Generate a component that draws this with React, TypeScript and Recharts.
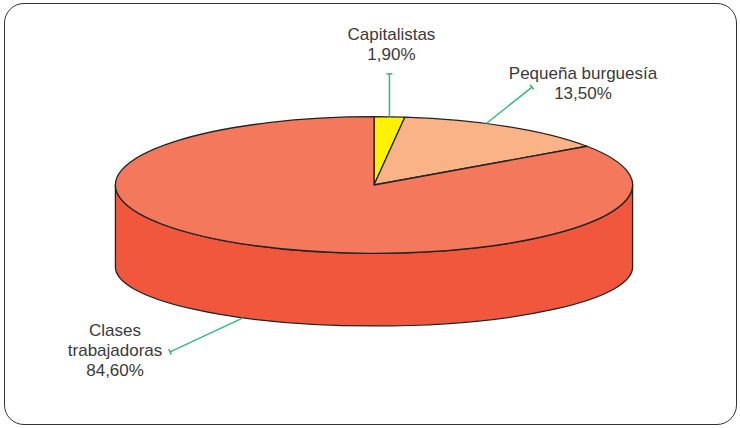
import React from 'react';
import { PieChart, Pie } from 'recharts';

// ---- data ----
const CATEGORIES = ['Capitalistas', 'Pequeña burguesía', 'Clases trabajadoras'];
const VALUES = [1.9, 13.5, 84.6];
const LABEL_LINES = [['Capitalistas'], ['Pequeña burguesía'], ['Clases', 'trabajadoras']];

// ---- styles / layout ----
const TOP_COLORS = ['#FFF200', '#F9B387', '#F4795C'];
const SIDE_COLORS = ['#E6D800', '#EE9A6E', '#F0573C'];
const LEADER = '#35B97A';
const EDGE = '#232323';
const TEXT = '#3a3a3a';
const FONT = "'Liberation Sans', Arial, sans-serif";

const W = 740;
const H = 428;
const CX = 374;
const CY = 185;
const RX = 258.6;
const RATIO_TOP = 68.3 / 258.6;
const DEPTH = 82;
const RATIO_BOT = 59 / 258.6;

const LABEL_LAYOUT = [
  { shift: 0, ex: 0, ey: -43, tx: 2, ty: -34 },
  { shift: 5.4, ex: 45.7, ey: -36.3, tx: 51, ty: -7.7 },
  { shift: -2.7, ex: -73, ey: 34, tx: -55, ty: -16 },
];

const data = CATEGORIES.map((name, i) => ({ name, value: VALUES[i] }));

const rad = (d: number) => (d * Math.PI) / 180;
const topPt = (cx: number, cy: number, r: number, a: number) => [
  cx + r * Math.cos(rad(a)),
  cy - r * RATIO_TOP * Math.sin(rad(a)),
];
const botPt = (cx: number, cy: number, r: number, a: number) => [
  cx + r * Math.cos(rad(a)),
  cy + DEPTH - r * RATIO_BOT * Math.sin(rad(a)),
];

const renderWall = (p: any) => {
  const { cx, cy, outerRadius: r, index } = p;
  const hi = Math.max(p.startAngle, p.endAngle);
  const lo = Math.min(p.startAngle, p.endAngle);
  const a1 = Math.min(hi, 0);
  const a2 = Math.max(lo, -180);
  if (a1 <= a2) return <g key={`w${index}`} />;
  const [x1, y1] = topPt(cx, cy, r, a1);
  const [x2, y2] = topPt(cx, cy, r, a2);
  const [bx1, by1] = botPt(cx, cy, r, a1);
  const [bx2, by2] = botPt(cx, cy, r, a2);
  const large = a1 - a2 > 180 ? 1 : 0;
  const d = `M${x1},${y1} A${r},${r * RATIO_TOP} 0 ${large} 1 ${x2},${y2} L${bx2},${by2} A${r},${r * RATIO_BOT} 0 ${large} 0 ${bx1},${by1} Z`;
  return (
    <path key={`w${index}`} d={d} fill={SIDE_COLORS[index]} stroke={EDGE} strokeWidth={1.3} strokeLinejoin="round" />
  );
};

const renderTop = (p: any) => {
  const { cx, cy, outerRadius: r, index } = p;
  const hi = Math.max(p.startAngle, p.endAngle);
  const lo = Math.min(p.startAngle, p.endAngle);
  const [x1, y1] = topPt(cx, cy, r, hi);
  const [x2, y2] = topPt(cx, cy, r, lo);
  const large = hi - lo > 180 ? 1 : 0;
  const d = `M${cx},${cy} L${x1},${y1} A${r},${r * RATIO_TOP} 0 ${large} 1 ${x2},${y2} Z`;
  return (
    <path key={`t${index}`} d={d} fill={TOP_COLORS[index]} stroke={EDGE} strokeWidth={1.3} strokeLinejoin="round" />
  );
};

const renderLabel = (p: any) => {
  const { cx, cy, outerRadius: r, index, midAngle, value } = p;
  const L = LABEL_LAYOUT[index];
  const a = midAngle + L.shift;
  const [ax, ay] = Math.sin(rad(a)) < 0 ? botPt(cx, cy, r, a) : topPt(cx, cy, r, a);
  const exx = ax + L.ex;
  const eyy = ay + L.ey;
  const len = Math.hypot(L.ex, L.ey);
  const nx = -L.ey / len;
  const ny = L.ex / len;
  const lines = [...LABEL_LINES[index], `${Number(value).toFixed(2).replace('.', ',')}%`];
  const tx = exx + L.tx;
  const ty = eyy + L.ty;
  return (
    <g key={`l${index}`}>
      <line x1={ax} y1={ay} x2={exx} y2={eyy} stroke={LEADER} strokeWidth={1.5} />
      <line x1={exx - 3 * nx} y1={eyy - 3 * ny} x2={exx + 3 * nx} y2={eyy + 3 * ny} stroke={LEADER} strokeWidth={1.5} />
      {lines.map((t, i) => (
        <text key={i} x={tx} y={ty + i * 20} textAnchor="middle" fontFamily={FONT} fontSize={17} fill={TEXT}>
          {t}
        </text>
      ))}
    </g>
  );
};

export default function App() {
  return (
    <div style={{ position: 'absolute', left: 0, top: 0, width: W, height: H, background: '#fff' }}>
      <div
        style={{
          position: 'absolute',
          left: 4,
          top: 3,
          width: 731,
          height: 420,
          border: '1.5px solid #333',
          borderRadius: 20,
        }}
      />
      <div style={{ position: 'absolute', left: 0, top: 0 }}>
        <PieChart width={W} height={H} margin={{ top: 0, right: 0, bottom: 0, left: 0 }}>
          <Pie
            data={data}
            dataKey="value"
            cx={CX}
            cy={CY}
            outerRadius={RX}
            startAngle={90}
            endAngle={-270}
            fill="none"
            stroke="none"
            label={renderWall}
            labelLine={false}
            isAnimationActive={false}
          />
          <Pie
            data={data}
            dataKey="value"
            cx={CX}
            cy={CY}
            outerRadius={RX}
            startAngle={90}
            endAngle={-270}
            fill="none"
            stroke="none"
            label={renderTop}
            labelLine={false}
            isAnimationActive={false}
          />
          <Pie
            data={data}
            dataKey="value"
            cx={CX}
            cy={CY}
            outerRadius={RX}
            startAngle={90}
            endAngle={-270}
            fill="none"
            stroke="none"
            label={renderLabel}
            labelLine={false}
            isAnimationActive={false}
          />
        </PieChart>
      </div>
    </div>
  );
}
